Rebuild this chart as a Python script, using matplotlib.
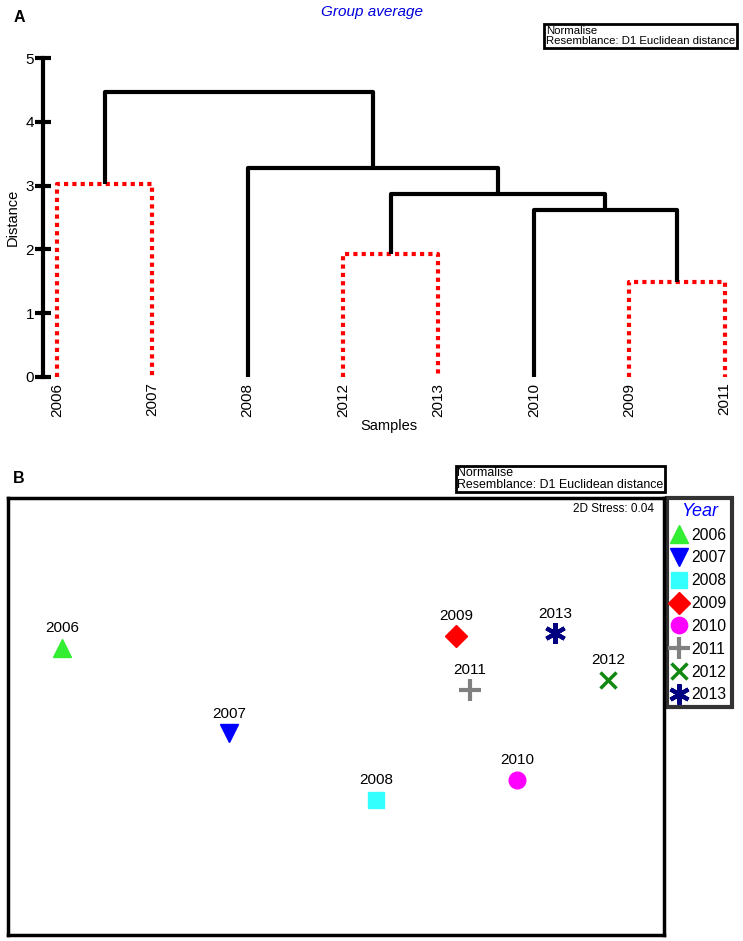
import matplotlib
matplotlib.use("Agg")
import matplotlib.pyplot as plt
from matplotlib.lines import Line2D

plt.rcParams['font.family'] = ['Liberation Sans', 'DejaVu Sans']

# ---------------- Data ----------------
# Dendrogram (group average, Euclidean distance)
leaf_labels = ["2006", "2007", "2008", "2012", "2013", "2010", "2009", "2011"]
# merges: nodes 0..7 are leaves in display order, new clusters get ids 8, 9, ...
merge_left = [0, 3, 6, 5, 9, 2, 8]
merge_right = [1, 4, 7, 10, 11, 12, 13]
merge_height = [3.03, 1.93, 1.49, 2.62, 2.87, 3.28, 4.47]
merge_dotted = [True, True, True, False, False, False, False]

# nMDS ordination
years = ["2006", "2007", "2008", "2009", "2010", "2011", "2012", "2013"]
mds_x = [-2.74, -1.07, 0.40, 1.20, 1.81, 1.34, 2.72, 2.19]
mds_y = [0.68, -0.17, -0.84, 0.80, -0.64, 0.26, 0.36, 0.83]
stress = 0.04

# ---------------- Figure ----------------
W, H = 743, 941
fig = plt.figure(figsize=(W / 100, H / 100), dpi=100)

def fx(px):
    return px / W

def fy(py):
    return 1 - py / H

# ---- Panel A ----
axA = fig.add_axes([fx(43), fy(377), fx(735) - fx(43), fy(58) - fy(377)])
n = len(leaf_labels)
pos = {i: (float(i), 0.0) for i in range(n)}
red = "#ff0000"
lw = 3.0
for k, (l, r, h, dot) in enumerate(zip(merge_left, merge_right, merge_height, merge_dotted)):
    xl, yl = pos[l]
    xr, yr = pos[r]
    if dot:
        kw = dict(color=red, lw=lw, linestyle=(0, (1, 1)), solid_capstyle='butt', dash_capstyle='butt')
    else:
        kw = dict(color="black", lw=lw, solid_capstyle='butt')
    axA.plot([xl, xl, xr, xr], [yl, h, h, yr], clip_on=False, **kw)
    pos[n + k] = ((xl + xr) / 2, h)

axA.set_xlim(-0.147, 7.11)
axA.set_ylim(0, 5)
for s in ["top", "right", "bottom"]:
    axA.spines[s].set_visible(False)
axA.spines["left"].set_linewidth(3)
axA.set_yticks([0, 1, 2, 3, 4, 5])
axA.tick_params(axis='y', direction='inout', length=11, width=3, labelsize=11, pad=1)
axA.set_xticks(range(n))
axA.set_xticklabels(leaf_labels, rotation=90, fontsize=11)
axA.tick_params(axis='x', length=0, pad=4)
axA.set_xlabel("Samples", fontsize=10.5, labelpad=2)
axA.set_ylabel("Distance", fontsize=10.5, labelpad=4)
axA.patch.set_visible(False)

fig.text(fx(19), fy(18), "A", fontsize=11.5, fontweight='bold', ha='center', va='center')
fig.text(fx(372), fy(12), "Group average", fontsize=11, style='italic', color='#0000dd',
         ha='center', va='center')
fig.text(fx(546), fy(36), "Normalise\nResemblance: D1 Euclidean distance", fontsize=8.2,
         ha='left', va='center', linespacing=1.05,
         bbox=dict(boxstyle='square,pad=0.15', fc='white', ec='black', lw=2))

# ---- Panel B ----
axB = fig.add_axes([fx(8), fy(935), fx(664) - fx(8), fy(498) - fy(935)])
markers = ['^', 'v', 's', 'D', 'o', '+', 'x', (6, 2, 0)]
colors = ['#33ee33', '#0000ff', '#33ffff', '#ff0000', '#ff00ff', '#808080', '#118811', '#000080']
sizes = [13, 13, 12, 11, 12, 16, 12, 15]
mews = [1, 1, 1, 1, 1, 3, 2.5, 3]
handles = []
for i in range(len(years)):
    axB.plot([mds_x[i]], [mds_y[i]], linestyle='none', marker=markers[i], ms=sizes[i],
             color=colors[i], mec=colors[i], mew=mews[i])
    axB.annotate(years[i], (mds_x[i], mds_y[i]), xytext=(0, 9), textcoords='offset points',
                 ha='center', va='bottom', fontsize=11)
    handles.append(Line2D([], [], linestyle='none', marker=markers[i], ms=sizes[i] * 0.98,
                          color=colors[i], mec=colors[i], mew=mews[i], label=years[i]))

axB.set_xlim(-3.28, 3.28)
axB.set_ylim(-2.19, 2.18)
axB.set_xticks([])
axB.set_yticks([])
for s in axB.spines.values():
    s.set_linewidth(2.5)
axB.text(0.985, 0.988, "2D Stress: %.2f" % stress, transform=axB.transAxes, ha='right', va='top',
         fontsize=8.5)

leg = axB.legend(handles=handles, loc='upper left', bbox_to_anchor=(1.005, 1.0), borderaxespad=0,
                 frameon=True, fancybox=False, fontsize=11.3, title="Year", handlelength=0.9,
                 handletextpad=0.35, labelspacing=0.5, borderpad=0.3, markerscale=1.0)
leg.get_title().set_color('#0000ff')
leg.get_title().set_fontstyle('italic')
leg.get_title().set_fontsize(13)
leg.get_frame().set_edgecolor('black')
leg.get_frame().set_linewidth(3)

fig.text(fx(19), fy(478), "B", fontsize=11.5, fontweight='bold', ha='center', va='center')
fig.text(fx(457), fy(479), "Normalise\nResemblance: D1 Euclidean distance", fontsize=8.9,
         ha='left', va='center', linespacing=1.0,
         bbox=dict(boxstyle='square,pad=0.12', fc='white', ec='black', lw=2))

fig.savefig("out.png", dpi=100)
